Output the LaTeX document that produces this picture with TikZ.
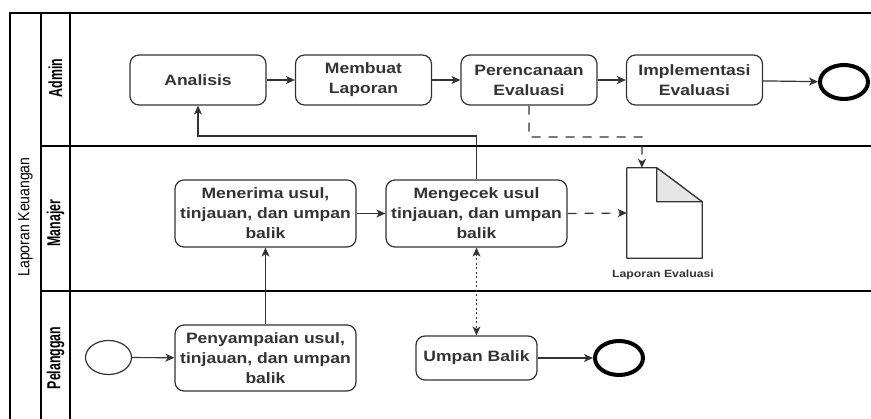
\documentclass[tikz,border=0pt]{standalone}
\usepackage{fontspec}
\setmainfont{Liberation Sans}
\newfontfamily\boxfont[FakeStretch=1.17]{Liberation Sans}
\usetikzlibrary{arrows.meta,calc,shapes.geometric}
\definecolor{ink}{HTML}{333333}
\definecolor{foldgray}{HTML}{E6E6E6}

\begin{document}
\begin{tikzpicture}[x=1pt,y=-1pt,
  lane/.style={draw=black,line width=1.3pt},
  task/.style={draw=ink,line width=1.2pt,rounded corners=9pt,inner sep=0pt,
    align=center,text=ink,font=\boxfont\bfseries\fontsize{15}{20}\selectfont},
  tip/.style={},
  flow/.style={draw=ink,line width=1.2pt,-{Stealth[length=9pt,width=8pt,inset=2.5pt]}},
  dashflow/.style={flow,dash pattern=on 9pt off 8pt},
  dotflow/.style={draw=ink,line width=1.2pt,dash pattern=on 2pt off 2.5pt,
    {Stealth[length=9pt,width=8pt,inset=2.5pt]}-{Stealth[length=9pt,width=8pt,inset=2.5pt]}},
  startev/.style={ellipse,draw=ink,line width=1.2pt,minimum width=46pt,minimum height=34pt,inner sep=0pt},
  endev/.style={ellipse,draw=black,line width=4pt,minimum width=48pt,minimum height=34pt,inner sep=0pt},
  lanelabel/.style={rotate=90,inner sep=0pt,font=\bfseries\fontsize{13}{15}\selectfont},
]
\useasboundingbox (0,0) rectangle (871,419);

% pool and lanes
\draw[lane] (10,419) -- (10,13) -- (871,13);
\draw[lane] (41,13) -- (41,419);
\draw[lane] (70,13) -- (70,419);
\draw[lane] (41,146) -- (871,146);
\draw[lane] (41,291) -- (871,291);

\node[rotate=90,inner sep=0pt,font=\fontsize{14}{16}\selectfont] (pool) at (25.5,217)
  {\scalebox{1}[1.15]{Laporan Keuangan}};
\node[lanelabel] (lAdmin) at (55.5,78) {\scalebox{0.95}[1.45]{Admin}};
\node[lanelabel] (lManajer) at (55.5,223) {\scalebox{0.95}[1.45]{Manajer}};
\node[lanelabel] (lPelanggan) at (55.5,358) {\scalebox{0.95}[1.45]{Pelanggan}};

% Admin lane
\node[task,minimum width=136pt,minimum height=50pt] (analisis) at (198,80) {Analisis};
\node[task,minimum width=136pt,minimum height=50pt] (membuat) at (363.5,80) {Membuat\\Laporan};
\node[task,minimum width=136pt,minimum height=50pt] (perencanaan) at (529,80) {Perencanaan\\Evaluasi};
\node[task,minimum width=136pt,minimum height=50pt] (implementasi) at (694.5,80) {Implementasi\\Evaluasi};
\node[endev] (endA) at (844,82) {};

% Manajer lane
\node[task,minimum width=181pt,minimum height=67pt] (menerima) at (265.5,213.5)
  {Menerima usul,\\tinjauan, dan umpan\\balik};
\node[task,minimum width=181pt,minimum height=67pt] (mengecek) at (476.5,213.5)
  {Mengecek usul\\tinjauan, dan umpan\\balik};

% document: Laporan Evaluasi
\node[minimum width=75pt,minimum height=90pt,inner sep=0pt] (doc) at (664.5,213) {};
\draw[draw=ink,line width=1.2pt,fill=white,line join=round]
  (doc.north west) -- ($(doc.north west)+(30,0)$) -- ($(doc.north east)+(0,34)$)
  -- (doc.south east) -- (doc.south west) -- cycle;
\draw[draw=ink,line width=1.2pt,fill=foldgray,line join=round]
  ($(doc.north west)+(30,0)$) -- ($(doc.north west)+(30,34)$) -- ($(doc.north east)+(0,34)$) -- cycle;
\node[inner sep=0pt,text=ink,font=\boxfont\bfseries\fontsize{10.5}{12}\selectfont]
  (docLabel) at (663,275) {Laporan Evaluasi};

% Pelanggan lane
\node[startev] (start) at (108.5,357.5) {};
\node[task,minimum width=181pt,minimum height=66pt] (penyampaian) at (265.5,358)
  {Penyampaian usul,\\tinjauan, dan umpan\\balik};
\node[task,minimum width=121pt,minimum height=44pt] (umpan) at (476.5,358) {Umpan Balik};
\node[endev] (endP) at (619,358) {};

% helper points
\coordinate (backBend) at (198,136);
\coordinate (docBend) at (642,137);
\coordinate (docIn) at ($(doc.north west)!0.2!(doc.north east)$);

% sequence flows
\draw[flow] (analisis) -- (membuat);
\draw[flow] (membuat) -- (perencanaan);
\draw[flow] (perencanaan) -- (implementasi);
\draw[flow] (implementasi) -- (endA);

\draw[flow] (start) -- (penyampaian);
\draw[flow] (penyampaian) -- (menerima);
\draw[flow] (menerima) -- (mengecek);
\draw[flow] (mengecek.north) |- (backBend) -- (analisis.south);
\draw[flow] (umpan) -- (endP);

% associations with the report document
\draw[dashflow] (perencanaan.south) |- (docBend) -- (docIn);
\draw[dashflow] (mengecek.east) -- (doc.west);
\draw[dotflow] (mengecek.south) -- (umpan.north);
\end{tikzpicture}
\end{document}
